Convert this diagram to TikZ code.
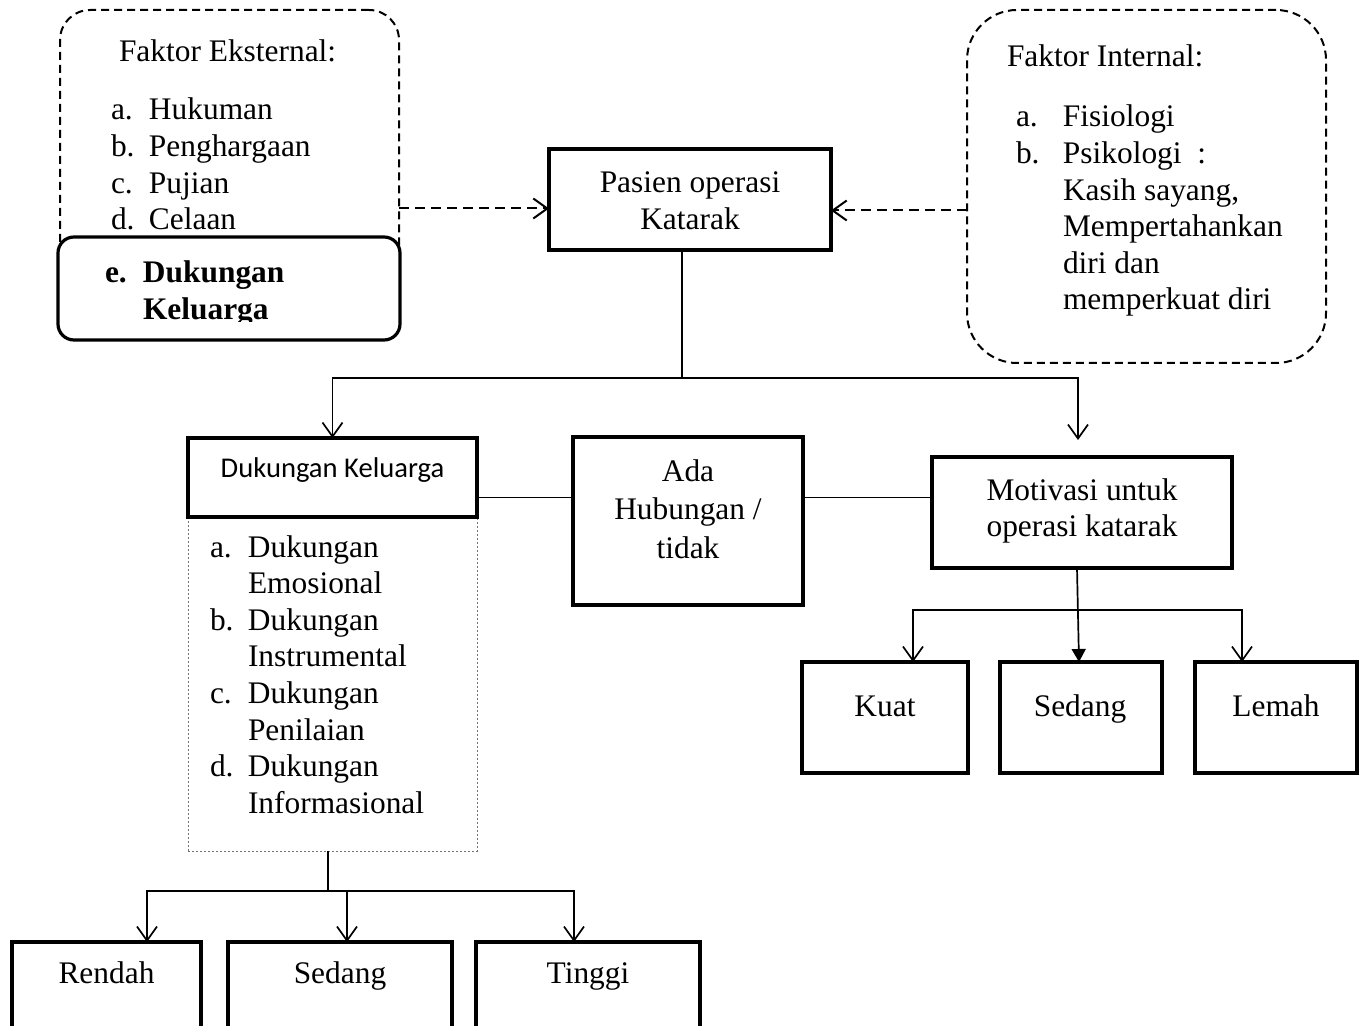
\documentclass[tikz,border=0pt]{standalone}
\usepackage{fontspec}
\setmainfont{Liberation Serif}
\newfontfamily\calib{Carlito}
\usetikzlibrary{arrows.meta,calc}
\newcommand{\mylist}[2]{\begin{tabular}[t]{@{}p{#1}@{}l@{}}#2\end{tabular}}
\newcommand{\mycent}[1]{\begin{tabular}[t]{@{}c@{}}#1\end{tabular}}
\begin{document}
\begin{tikzpicture}[x=0.5pt,y=-0.5pt,
  every node/.style={font=\fontsize{15.7}{18.3}\selectfont, inner sep=0pt, outer sep=0pt},
  txt/.style={anchor=base west},
  ctxt/.style={anchor=base},
  box/.style={draw, line width=2pt, fill=white},
  dbox/.style={draw, dash pattern=on 4pt off 2.5pt, line width=1pt},
  conn/.style={line width=0.85pt},
  arr/.style={conn, -{Straight Barb[length=7pt,width=10pt]}},
  farr/.style={conn, -{Triangle[length=6.5pt,width=7pt]}},
  darr/.style={line width=1pt, dash pattern=on 5pt off 3pt, -{Straight Barb[length=7pt,width=10pt]}},
]
\useasboundingbox (0,0) rectangle (1359,1026);

% external factors
\node[dbox, rounded corners=15pt, minimum width=169.5pt, minimum height=160pt] (ext) at (229.5,170) {};
\node[txt] (extT) at (119,62) {Faktor Eksternal:};
\node[txt] (extL) at (111,120) {\mylist{19pt}{a.&Hukuman\\ b.&Penghargaan\\ c.&Pujian\\ d.&Celaan}};
\node[box, line width=1.6pt, rounded corners=8pt, minimum width=171pt, minimum height=51.5pt] (eb) at (229,288.5) {};
\begin{scope}
\clip (58,237) rectangle (400,322);
\node[txt, font=\fontsize{15.7}{18.4}\selectfont\bfseries] (ebT) at (105,283) {\mylist{19pt}{e.&Dukungan\\ &Keluarga}};
\end{scope}

% internal factors
\node[dbox, rounded corners=25pt, minimum width=179.5pt, minimum height=176.5pt] (int) at (1146.5,186.5) {};
\node[txt] (intT) at (1007,67) {Faktor Internal:};
\node[txt] (intL) at (1016,127) {\mylist{23.5pt}{a.&Fisiologi\\ b.&Psikologi~~:\\ &Kasih sayang,\\ &Mempertahankan\\ &diri dan\\ &memperkuat diri}};

% pasien
\node[box, minimum width=141pt, minimum height=50.5pt] (pas) at (690,199.5) {};
\node[ctxt] (pasT) at (690,193) {\mycent{Pasien operasi\\ Katarak}};

% dukungan keluarga
\node[draw=black!55, line width=0.5pt, dash pattern=on 1pt off 1pt, minimum width=144.5pt, minimum height=167pt] (dkl) at (332.5,684) {};
\node[box, minimum width=144.5pt, minimum height=39.5pt] (dk) at (332.5,477.5) {};
\node[ctxt, font=\calib\fontsize{14.3}{17}\selectfont] (dkT) at (332.5,477) {Dukungan Keluarga};
\node[txt] (dklT) at (210,557) {\mylist{19pt}{a.&Dukungan\\ &Emosional\\ b.&Dukungan\\ &Instrumental\\ c.&Dukungan\\ &Penilaian\\ d.&Dukungan\\ &Informasional}};

% ada hubungan
\node[box, minimum width=115pt, minimum height=84pt] (ada) at (688,521) {};
\node[ctxt, font=\fontsize{15.7}{19.4}\selectfont] (adaT) at (688,481) {\mycent{Ada\\ Hubungan /\\ tidak}};

% motivasi
\node[box, minimum width=150pt, minimum height=55.5pt] (mot) at (1082,512.5) {};
\node[ctxt] (motT) at (1082,500) {\mycent{Motivasi untuk\\ operasi katarak}};

\node[box, minimum width=83pt, minimum height=55.5pt] (kuat) at (885,717.5) {};
\node[ctxt] (kuatT) at (885,716) {Kuat};
\node[box, minimum width=81pt, minimum height=55.5pt] (sedM) at (1081,717.5) {};
\node[ctxt] (sedMT) at (1080,716) {Sedang};
\node[box, minimum width=81pt, minimum height=55.5pt] (lem) at (1276,717.5) {};
\node[ctxt] (lemT) at (1276,716) {Lemah};

% bottom categories
\node[box, minimum width=94.5pt, minimum height=49pt] (ren) at (106.5,991) {};
\node[ctxt] (renT) at (106.5,983) {Rendah};
\node[box, minimum width=112pt, minimum height=49pt] (sedD) at (340,991) {};
\node[ctxt] (sedDT) at (340,983) {Sedang};
\node[box, minimum width=112pt, minimum height=49pt] (tin) at (588,991) {};
\node[ctxt] (tinT) at (588,983) {Tinggi};

% connectors
\coordinate (pw) at ([yshift=-4.5pt]pas.west);
\coordinate (pe) at ([yshift=-5.5pt]pas.east);
\draw[darr] (ext.east |- pw) -- (pw);
\draw[darr] (int.west |- pe) -- (pe);

\coordinate (sp1) at (682,378);
\draw[conn] (pas.south -| sp1) -- (sp1);
\draw[arr] (sp1) -| (dk.north);
\draw[arr] (sp1) -| ([yshift=8.5pt,xshift=-2pt]mot.north);

\coordinate (hl) at (0,497.5);
\draw[conn] (dk.east |- hl) -- (ada.west |- hl);
\draw[conn] (ada.east |- hl) -- (mot.west |- hl);

\coordinate (sp2) at (1077,610);
\draw[farr] (mot.south -| sp2) -- ([xshift=-1pt]sedM.north);
\draw[arr] (sp2) -| ([xshift=14pt]kuat.north);
\draw[arr] (sp2) -| ([xshift=-17pt]lem.north);

\coordinate (sp3) at (328,891);
\draw[conn] (dkl.south -| sp3) -- (sp3);
\draw[arr] (sp3) -| ([xshift=20.25pt]ren.north);
\draw[arr] (sp3) -| ([xshift=3.5pt]sedD.north);
\draw[arr] (sp3) -| ([xshift=-7pt]tin.north);
\end{tikzpicture}
\end{document}
